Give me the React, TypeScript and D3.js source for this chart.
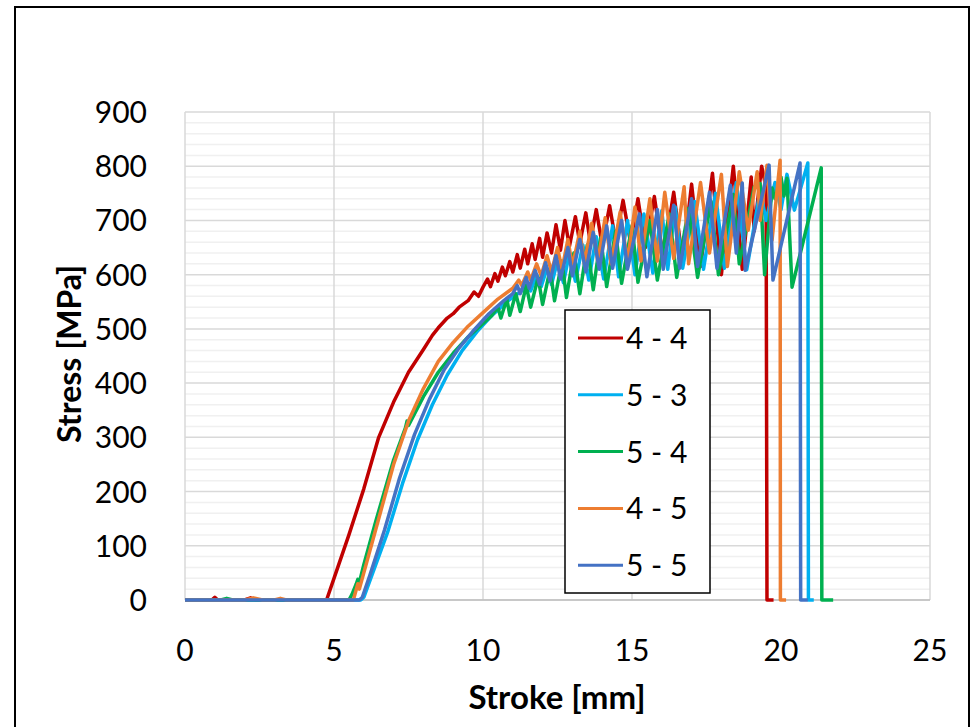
import React from "react";
import * as d3 from "d3";

const W = 979;
const H = 727;
const FONT = "Lato, 'Open Sans', sans-serif";

const X_TICKS = [0, 5, 10, 15, 20, 25];
const Y_TICKS = [0, 100, 200, 300, 400, 500, 600, 700, 800, 900];
const LEGEND = ["4 - 4", "5 - 3", "5 - 4", "4 - 5", "5 - 5"];
const COLORS = ["#C00000", "#00B0F0", "#00B050", "#ED7D31", "#4472C4"];

// stroke [mm], stress [MPa] pairs
const S44: [number, number][] = [
  [0, 0], [0.9, 0], [1.0, 5], [1.1, 0], [2.0, 0], [2.2, 4], [2.4, 0], [4.75, 0],
  [5.0, 40], [5.5, 120], [6.0, 205], [6.5, 300], [6.9, 352], [7.0, 365], [7.5, 420],
  [8.0, 462], [8.3, 488], [8.5, 502], [8.8, 520], [9.0, 528], [9.2, 540], [9.5, 552],
  [9.7, 568], [9.85, 560], [10.0, 577], [10.15, 592], [10.25, 578], [10.4, 602], [10.5, 588],
  [10.65, 614], [10.75, 598], [10.9, 624], [11.0, 605], [11.15, 637], [11.25, 612],
  [11.4, 647], [11.5, 620], [11.65, 657], [11.75, 628], [11.9, 667], [12.0, 632],
  [12.15, 677], [12.3, 640], [12.45, 692], [12.6, 645], [12.75, 700], [12.9, 652],
  [13.1, 707], [13.25, 658], [13.45, 714], [13.6, 660], [13.8, 720], [14.0, 655],
  [14.25, 727], [14.45, 662], [14.7, 737], [14.95, 660], [15.2, 740], [15.45, 650],
  [15.75, 744], [16.05, 630], [16.4, 752], [16.7, 625], [17.0, 767], [17.3, 615],
  [17.7, 787], [18.0, 600], [18.4, 800], [18.7, 610], [19.0, 780], [19.1, 680],
  [19.35, 800], [19.5, 760], [19.53, 0], [19.75, 0],
];

const S53: [number, number][] = [
  [0, 0], [5.9, 0], [6.0, 5], [6.3, 50], [6.8, 125], [7.3, 215], [7.8, 295], [8.3, 360],
  [8.8, 415], [9.3, 460], [9.8, 495], [10.3, 525], [10.8, 550], [11.3, 570],
  [11.5, 585], [11.6, 570], [11.8, 600], [11.95, 578], [12.15, 612], [12.3, 582],
  [12.5, 625], [12.7, 585], [12.9, 640], [13.1, 588], [13.35, 655], [13.55, 590],
  [13.8, 670], [14.05, 592], [14.35, 690], [14.55, 596], [14.85, 700], [15.1, 600],
  [15.4, 712], [15.7, 603], [16.0, 718], [16.2, 610], [16.45, 725], [16.7, 612],
  [17.1, 735], [17.4, 610], [17.8, 750], [18.1, 612], [18.5, 770], [18.85, 609],
  [19.3, 755], [19.5, 700], [19.8, 770], [20.0, 720], [20.2, 785], [20.45, 719],
  [20.9, 806], [20.92, 0], [21.1, 0],
];

const S54: [number, number][] = [
  [0, 0], [1.2, 0], [1.4, 3], [1.6, 0], [5.5, 0], [5.6, 10], [5.75, 30], [5.8, 38],
  [5.85, 32], [6.0, 65], [6.4, 145], [7.0, 258], [7.4, 318], [7.45, 330], [7.5, 322],
  [8.0, 375], [8.5, 420], [9.0, 455], [9.5, 485], [10.0, 510], [10.3, 525],
  [10.5, 540], [10.6, 520], [10.8, 555], [10.9, 525], [11.1, 565], [11.25, 532],
  [11.45, 580], [11.6, 540], [11.85, 595], [12.0, 545], [12.25, 610], [12.4, 552],
  [12.65, 625], [12.8, 558], [13.05, 640], [13.25, 565], [13.5, 655], [13.7, 572],
  [13.95, 668], [14.15, 578], [14.45, 680], [14.65, 584], [15.0, 690], [15.2, 586],
  [15.6, 700], [15.85, 590], [16.25, 712], [16.5, 595], [16.9, 722], [17.2, 595],
  [17.65, 735], [17.9, 600], [18.4, 748], [18.6, 620], [19.1, 762], [19.3, 768],
  [19.45, 600], [19.7, 760], [19.8, 740], [20.0, 780], [20.1, 745], [20.2, 778],
  [20.37, 577], [21.35, 797], [21.37, 0], [21.75, 0],
];

const S45: [number, number][] = [
  [0, 0], [2.0, 0], [2.3, 4], [2.6, 0], [3.0, 0], [3.2, 3], [3.4, 0], [5.65, 0],
  [5.8, 30], [5.85, 20], [6.0, 50], [6.5, 150], [7.0, 250], [7.5, 330], [8.0, 390],
  [8.5, 440], [9.0, 475], [9.5, 505], [10.0, 530], [10.5, 555], [11.0, 575],
  [11.2, 590], [11.3, 580], [11.5, 605], [11.6, 590], [11.8, 620], [11.95, 598],
  [12.15, 635], [12.3, 605], [12.5, 650], [12.65, 610], [12.85, 665], [13.0, 615],
  [13.25, 680], [13.4, 620], [13.65, 695], [13.85, 625], [14.1, 705], [14.3, 620],
  [14.6, 715], [14.85, 625], [15.1, 725], [15.3, 625], [15.6, 740], [15.85, 625],
  [16.1, 752], [16.4, 630], [16.75, 762], [16.9, 620], [17.3, 770], [17.6, 640],
  [18.0, 785], [18.2, 615], [18.6, 790], [18.9, 682], [19.2, 790], [19.3, 700],
  [19.53, 802], [19.7, 664], [19.97, 811], [19.98, 0], [20.17, 0],
];

const S55: [number, number][] = [
  [0, 0], [5.85, 0], [5.95, 5], [6.2, 45], [6.7, 130], [7.2, 225], [7.7, 305],
  [8.2, 370], [8.7, 425], [9.2, 465], [9.7, 498], [10.2, 528], [10.7, 552], [11.0, 565],
  [11.15, 580], [11.25, 565], [11.45, 595], [11.55, 575], [11.75, 608], [11.9, 582],
  [12.1, 622], [12.25, 588], [12.45, 635], [12.6, 592], [12.85, 650], [13.0, 598],
  [13.25, 665], [13.45, 605], [13.7, 678], [13.9, 610], [14.15, 690], [14.35, 612],
  [14.65, 700], [14.85, 610], [15.25, 712], [15.5, 596], [15.85, 720], [16.05, 610],
  [16.4, 728], [16.6, 612], [17.0, 740], [17.2, 615], [17.6, 752], [17.85, 612],
  [18.3, 765], [18.5, 640], [18.7, 769], [18.8, 608], [19.6, 802], [19.73, 590],
  [20.64, 806], [20.66, 0], [20.9, 0],
];

const SERIES = [S44, S53, S54, S45, S55];

const x = d3.scaleLinear().domain([0, 25]).range([185, 930]);
const y = d3.scaleLinear().domain([0, 900]).range([600, 112]);

const lineGen = d3
  .line<[number, number]>()
  .x((d) => x(d[0]))
  .y((d) => y(d[1]));

export default function App() {
  const minor = d3.range(0, 901, 20).filter((v) => v % 100 !== 0);
  return (
    <svg
      width={W}
      height={H}
      style={{ position: "absolute", left: 0, top: 0, background: "#fff" }}
      fontFamily={FONT}
    >
      <rect x={0} y={0} width={W} height={H} fill="#fff" />
      <rect x={15} y={7} width={954} height={740} fill="none" stroke="#000" strokeWidth={2} />

      {/* grid */}
      {minor.map((v) => (
        <line key={"m" + v} x1={x(0)} x2={x(25)} y1={y(v)} y2={y(v)} stroke="#f0f0f0" strokeWidth={1.5} />
      ))}
      {Y_TICKS.map((v) => (
        <line key={"h" + v} x1={x(0)} x2={x(25)} y1={y(v)} y2={y(v)} stroke="#d9d9d9" strokeWidth={1.5} />
      ))}
      {X_TICKS.map((v) => (
        <line key={"v" + v} x1={x(v)} x2={x(v)} y1={y(0)} y2={y(900)} stroke="#d9d9d9" strokeWidth={1.5} />
      ))}
      <line x1={x(0)} x2={x(25)} y1={y(0)} y2={y(0)} stroke="#bfbfbf" strokeWidth={1.5} />

      {/* series */}
      {SERIES.map((s, i) => (
        <path key={i} d={lineGen(s) || ""} fill="none" stroke={COLORS[i]} strokeWidth={3.5} strokeLinejoin="round" />
      ))}

      {/* tick labels */}
      {Y_TICKS.map((v) => (
        <text key={"yt" + v} x={147} y={y(v) + 11} textAnchor="end" fontSize={30} fill="#000">
          {v}
        </text>
      ))}
      {X_TICKS.map((v) => (
        <text key={"xt" + v} x={x(v)} y={661} textAnchor="middle" fontSize={30} fill="#000">
          {v}
        </text>
      ))}

      {/* axis titles */}
      <text x={557} y={709} textAnchor="middle" fontSize={33} fontWeight="bold" fill="#000">
        Stroke [mm]
      </text>
      <text
        transform={`translate(81,354) rotate(-90)`}
        textAnchor="middle"
        fontSize={32}
        fontWeight="bold"
        fill="#000"
      >
        Stress [MPa]
      </text>

      {/* legend */}
      <rect x={565} y={310} width={145} height={283} fill="#fff" stroke="#000" strokeWidth={1.5} />
      {LEGEND.map((name, i) => {
        const cy = 338 + i * 56.8;
        return (
          <g key={name}>
            <line x1={578} x2={623} y1={cy} y2={cy} stroke={COLORS[i]} strokeWidth={3} />
            <text x={626} y={cy + 11} fontSize={30} fill="#000">
              {name}
            </text>
          </g>
        );
      })}
    </svg>
  );
}
